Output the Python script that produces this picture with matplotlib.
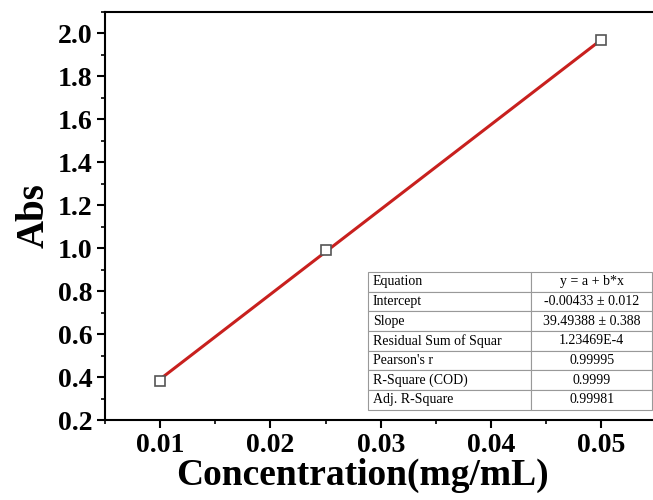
import numpy as np
import matplotlib.pyplot as plt
from matplotlib.ticker import MultipleLocator

conc = [0.01, 0.025, 0.05]
absorb = [0.38, 0.99, 1.97]
intercept = -0.00433
slope = 39.49388

table_rows = [
    ["Equation", "y = a + b*x"],
    ["Intercept", "-0.00433 ± 0.012"],
    ["Slope", "39.49388 ± 0.388"],
    ["Residual Sum of Squar", "1.23469E-4"],
    ["Pearson's r", "0.99995"],
    ["R-Square (COD)", "0.9999"],
    ["Adj. R-Square", "0.99981"],
]

plt.rcParams['font.family'] = ['Liberation Serif', 'DejaVu Serif']

fig = plt.figure(figsize=(6.53, 5), dpi=100)
ax = fig.add_axes([0.161, 0.16, 0.844, 0.816])

fit_x = np.array([conc[0], conc[-1]])
ax.plot(fit_x, intercept + slope * fit_x, color="#c8201e", lw=2.2, zorder=2)
ax.plot(conc, absorb, ls="none", marker="s", ms=6.5, mfc="white",
        mec="#555555", mew=1.2, zorder=3)

ax.set_xlim(0.005, 0.055)
ax.set_ylim(0.2, 2.1)
ax.xaxis.set_minor_locator(MultipleLocator(0.005))
ax.yaxis.set_minor_locator(MultipleLocator(0.1))
ax.set_xticks([0.01, 0.02, 0.03, 0.04, 0.05])
ax.set_xticklabels(["0.01", "0.02", "0.03", "0.04", "0.05"])
ax.set_yticks(np.arange(0.2, 2.01, 0.2))
ax.set_yticklabels([f"{v:.1f}" for v in np.arange(0.2, 2.01, 0.2)])

ax.tick_params(which="major", direction="out", length=6, width=1.5,
               labelsize=20, pad=3)
ax.tick_params(which="minor", direction="out", length=3, width=1.2)
for lab in ax.get_xticklabels() + ax.get_yticklabels():
    lab.set_fontweight("bold")
for s in ax.spines.values():
    s.set_linewidth(1.5)

ax.set_xlabel("Concentration(mg/mL)", fontsize=27, fontweight="bold")
ax.xaxis.set_label_coords(0.466, -0.093)
ax.xaxis.label.set_va("top")
ax.set_ylabel("Abs", fontsize=28, fontweight="bold", labelpad=4)

tbl = ax.table(cellText=table_rows, cellLoc="center",
               colWidths=[0.574, 0.426],
               bbox=[0.477, 0.025, 0.516, 0.338])
tbl.auto_set_font_size(False)
tbl.set_fontsize(10)
for (r, c), cell in tbl.get_celld().items():
    cell.set_edgecolor("#999999")
    cell.set_linewidth(0.8)
    cell.PAD = 0.03
    if c == 0:
        cell._loc = "left"
        cell.get_text().set_ha("left")

fig.savefig("out.png", dpi=100)
